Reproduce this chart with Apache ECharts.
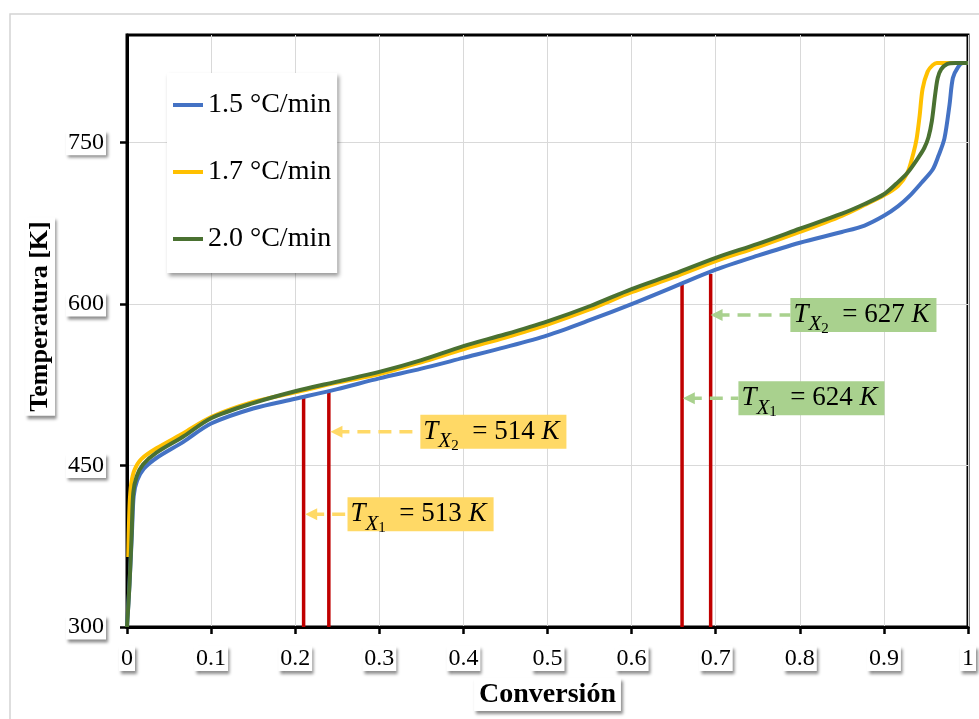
<!DOCTYPE html>
<html><head><meta charset="utf-8">
<script src="https://cdn.jsdelivr.net/npm/echarts@6/dist/echarts.min.js"></script>
<style>html,body{margin:0;padding:0;background:#fff}#c{width:979px;height:719px}</style>
</head><body><div id="c"></div>
<script>
// ---- data ----
const seriesNames = ['1.5 °C/min', '1.7 °C/min', '2.0 °C/min'];

const conv15 = [0, 0.003, 0.006, 0.008, 0.012, 0.02, 0.035, 0.067, 0.1, 0.15, 0.2, 0.25, 0.3, 0.35, 0.4, 0.45, 0.5, 0.55, 0.6, 0.65, 0.7, 0.75, 0.8, 0.85, 0.877, 0.9, 0.917, 0.93, 0.945, 0.958, 0.965, 0.972, 0.978, 0.982, 0.988, 0.994, 1.0];
const temp15 = [300, 340, 390, 422, 436, 447, 457, 472, 489, 503, 512, 521, 531, 540, 550, 560, 571, 585, 600, 616, 632, 645, 657, 667, 673, 682, 691, 700, 713, 725, 738, 754, 785, 810, 820, 824, 824];

const conv17 = [0.0015, 0.003, 0.005, 0.009, 0.017, 0.035, 0.067, 0.1, 0.15, 0.2, 0.25, 0.3, 0.35, 0.4, 0.45, 0.5, 0.55, 0.6, 0.65, 0.7, 0.75, 0.8, 0.85, 0.877, 0.9, 0.917, 0.928, 0.935, 0.939, 0.9425, 0.946, 0.952, 0.958, 0.963, 1.0];
const temp17 = [365, 412, 433, 446, 456, 466, 480, 495, 509, 518, 527, 535, 546, 558, 569, 581, 595, 611, 625, 640, 653, 667, 682, 692, 701, 710, 722, 740, 754, 775, 800, 816, 822, 824, 824];

const conv20 = [0, 0.003, 0.0056, 0.0075, 0.0115, 0.019, 0.035, 0.067, 0.1, 0.15, 0.2, 0.25, 0.3, 0.35, 0.4, 0.45, 0.5, 0.55, 0.6, 0.65, 0.7, 0.75, 0.8, 0.85, 0.877, 0.9, 0.915, 0.928, 0.94, 0.948, 0.953, 0.957, 0.961, 0.964, 0.968, 0.975, 0.985, 1.0];
const temp20 = [300, 340, 388, 425, 440, 451, 462, 477, 494, 508, 519, 528, 537, 548, 561, 572, 584, 598, 614, 628, 643, 656, 670, 684, 693, 702, 712, 722, 735, 745, 755, 770, 795, 810, 818, 823, 824, 824];

// vertical markers (conversion, temperature reached)
const markerConv = [0.21, 0.24, 0.66, 0.694];
const markerTemp = [513, 519, 620, 628];

// annotations
const annSub = ['2', '1', '2', '1'];
const annValue = [514, 513, 627, 624];
const annTemp = [481.4, 404.7, 589.9, 512.5];
const annBoxConv = [0.3488, 0.2622, 0.7888, 0.727];
const annArrowConv = [0.249, 0.219, 0.701, 0.668];
const annColors = ['#FFD966', '#FFD966', '#A9D18E', '#A9D18E'];

const xTicks = [0, 0.1, 0.2, 0.3, 0.4, 0.5, 0.6, 0.7, 0.8, 0.9, 1];
const yTicks = [300, 450, 600, 750];
const yMax = 850;

// ---- styling ----
const colors = ['#4472C4', '#FFC000', '#4A7131'];
const serif = 'Liberation Serif';
const boxShadow = { backgroundColor: '#fff', shadowColor: 'rgba(0,0,0,0.45)', shadowBlur: 3, shadowOffsetX: 2, shadowOffsetY: 3 };

const zip = (a, b) => a.map((v, i) => [v, b[i]]);
const curves = [[conv15, temp15], [conv17, temp17], [conv20, temp20]];

const series = [];
markerConv.forEach((x, i) => {
  series.push({
    type: 'line', silent: true, symbol: 'none', z: 2,
    data: [[x, yTicks[0]], [x, markerTemp[i]]],
    lineStyle: { color: '#C00000', width: 3.5 }
  });
});
curves.forEach((c, i) => {
  series.push({
    name: seriesNames[i], type: 'line', data: zip(c[0], c[1]),
    symbol: 'none', showSymbol: false, smooth: 0.3,
    lineStyle: { color: colors[i], width: 4 }, itemStyle: { color: colors[i] }, z: 3 + i
  });
});
annValue.forEach((v, i) => {
  series.push({
    type: 'line', silent: true, z: 7,
    lineStyle: { color: annColors[i], width: 3.5, type: [13, 8] },
    itemStyle: { color: annColors[i] },
    data: [
      { value: [annArrowConv[i], annTemp[i]], symbol: 'triangle', symbolSize: [12, 12], symbolRotate: 90 },
      { value: [annBoxConv[i], annTemp[i]], symbol: 'circle', symbolSize: 0.01,
        label: {
          show: true, position: 'right', distance: 0,
          backgroundColor: annColors[i], padding: [1, 7, 1, 3],
          formatter: '{t|T}{x|X}{s|' + annSub[i] + '}{n|  = ' + v + ' }{k|K}',
          rich: {
            t: { fontFamily: serif, fontStyle: 'italic', fontSize: 27, color: '#000', lineHeight: 32 },
            x: { fontFamily: serif, fontStyle: 'italic', fontSize: 21, color: '#000', lineHeight: 32, padding: [20, 0, 0, 0] },
            s: { fontFamily: serif, fontSize: 15, color: '#000', lineHeight: 32, padding: [28, 0, 0, 0] },
            n: { fontFamily: serif, fontSize: 27, color: '#000', lineHeight: 32 },
            k: { fontFamily: serif, fontStyle: 'italic', fontSize: 27, color: '#000', lineHeight: 32 }
          }
        }
      }
    ]
  });
});

const option = {
  animation: false,
  backgroundColor: '#fff',
  graphic: [{
    type: 'rect', silent: true, z: -10,
    shape: { x: 10, y: 14, width: 1000, height: 720 },
    style: { fill: 'none', stroke: '#D4D4D4', lineWidth: 1.5 }
  }],
  grid: { left: 127, right: 9, top: 35, bottom: 92, show: true, borderColor: '#000', borderWidth: 3, backgroundColor: 'transparent' },
  legend: {
    data: seriesNames, orient: 'vertical', left: 167, top: 73,
    itemWidth: 30, itemHeight: 4, itemGap: 37, icon: 'rect',
    padding: [17, 6, 19, 6], backgroundColor: '#fff',
    shadowColor: 'rgba(0,0,0,0.4)', shadowBlur: 4, shadowOffsetX: 2, shadowOffsetY: 3,
    textStyle: { fontFamily: serif, fontSize: 28, color: '#000', lineHeight: 30 },
    selectedMode: false
  },
  xAxis: {
    type: 'value', min: xTicks[0], max: xTicks[xTicks.length - 1],
    interval: +(xTicks[1] - xTicks[0]).toFixed(6),
    axisLine: { show: true, onZero: false, lineStyle: { color: '#000', width: 3 } },
    axisTick: { show: true, length: 7, lineStyle: { color: '#000', width: 2.5 } },
    splitLine: { show: true, lineStyle: { color: '#D9D9D9', width: 1 } },
    axisLabel: Object.assign({ fontFamily: serif, fontSize: 24, color: '#000', margin: 19, padding: [1, 2, 0, 2] }, boxShadow),
    name: 'Conversión', nameLocation: 'middle', nameGap: 51,
    nameTextStyle: Object.assign({ fontFamily: serif, fontSize: 28, fontWeight: 'bold', color: '#000', padding: [3, 5, 2, 5] }, boxShadow)
  },
  yAxis: {
    type: 'value', min: yTicks[0], max: yMax, interval: yTicks[1] - yTicks[0],
    axisLine: { show: true, onZero: false, lineStyle: { color: '#000', width: 3 } },
    axisTick: { show: true, length: 7, customValues: yTicks, lineStyle: { color: '#000', width: 2.5 } },
    splitLine: { show: true, lineStyle: { color: '#D9D9D9', width: 1 } },
    axisLabel: Object.assign({ fontFamily: serif, fontSize: 24, color: '#000', margin: 21, padding: [1, 2, 0, 2], customValues: yTicks }, boxShadow),
    name: '{sp| }{m|Temperatura [K]}', nameLocation: 'middle', nameGap: 64,
    nameTextStyle: {
      rich: {
        sp: { width: 29, fontSize: 10 },
        m: Object.assign({ fontFamily: serif, fontSize: 26, fontWeight: 'bold', color: '#000', padding: [2, 4, 2, 4] }, boxShadow)
      }
    }
  },
  series: series
};

const chart = echarts.init(document.getElementById('c'), null, { renderer: 'canvas' });
chart.setOption(option);
</script></body></html>
